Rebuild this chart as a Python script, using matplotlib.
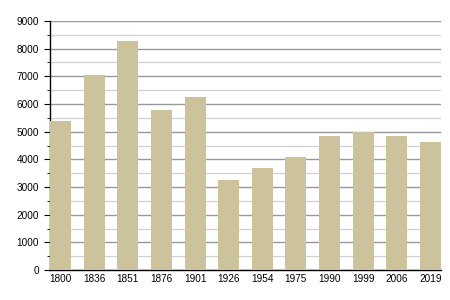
import numpy as np
from matplotlib import pyplot as plt
from matplotlib.ticker import MultipleLocator

years = ['1800', '1836', '1851', '1876', '1901', '1926', '1954', '1975', '1990', '1999', '2006', '2019']
population = [5400, 7050, 8280, 5780, 6250, 3250, 3690, 4080, 4840, 4990, 4840, 4620]

plt.rcParams['font.family'] = ['Liberation Sans', 'DejaVu Sans']

fig = plt.figure(figsize=(4.5, 3), dpi=100)
ax = fig.add_axes([0.111, 0.1, 0.869, 0.83])

x = np.arange(len(years))
w = 0.625
ax.bar(x, population, width=w, color='#ccc29c', zorder=3)

ax.set_xlim(-w / 2, len(years) - 1 + w / 2)
ax.set_ylim(0, 9000)
ax.set_xticks(x)
ax.set_xticklabels(years)
ax.yaxis.set_major_locator(MultipleLocator(1000))
ax.yaxis.set_minor_locator(MultipleLocator(500))

ax.grid(axis='y', which='major', color='#999999', lw=1, zorder=0)
ax.grid(axis='y', which='minor', color='#d0d0d0', lw=0.9, zorder=0)

for s in ['top', 'right']:
    ax.spines[s].set_visible(False)
ax.spines['left'].set_linewidth(1)
ax.spines['bottom'].set_linewidth(1)

ax.tick_params(axis='x', length=0, labelsize=7.2, pad=3)
ax.tick_params(axis='y', which='major', length=4, labelsize=7.2, pad=4)
ax.tick_params(axis='y', which='minor', length=2)

fig.savefig('out.png')
